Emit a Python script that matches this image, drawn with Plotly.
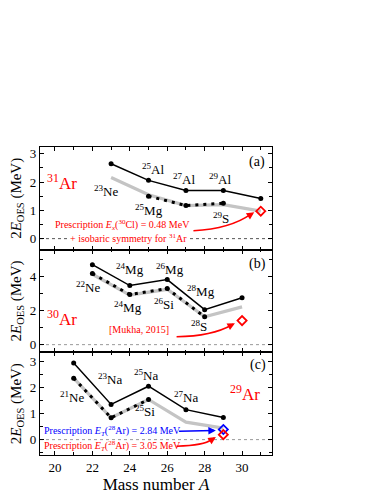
import plotly.graph_objects as go

FONT = "Liberation Serif"

# ---------------- data ----------------
# panel (a): 31Ar
a_A_exp = [23, 25, 27, 29, 31]
a_exp = [2.65, 2.06, 1.70, 1.70, 1.42]
a_A_dot = [25, 27, 29]
a_dot = [1.50, 1.17, 1.25]
a_A_grey = [23, 25, 27, 29, 31]
a_grey = [2.16, 1.55, 1.17, 1.20, 0.97]
a_A_pred = [31]
a_pred = [0.97]

# panel (b): 30Ar
b_A_exp = [22, 24, 26, 28, 30]
b_exp = [4.68, 3.46, 3.81, 2.05, 2.74]
b_A_dot = [22, 24, 26, 28]
b_dot = [4.16, 2.93, 3.28, 1.63]
b_A_grey = [22, 24, 26, 28, 30]
b_grey = [4.12, 2.90, 3.24, 1.63, 2.21]
b_A_pred = [30]
b_pred = [1.41]

# panel (c): 29Ar
c_A_exp = [21, 23, 25, 27, 29]
c_exp = [2.94, 1.35, 2.05, 1.15, 0.85]
c_A_dot = [21, 23, 25]
c_dot = [2.36, 0.84, 1.54]
c_A_grey = [21, 23, 25, 27, 29]
c_grey = [2.36, 0.84, 1.54, 0.67, 0.44]
c_A_blue = [29]
c_blue = [0.39]
c_A_red = [29]
c_red = [0.19]

x_ticks = [20, 22, 24, 26, 28, 30]

fig = go.Figure()

def add_panel(i, A_exp, exp, A_dot, dot, A_grey, grey):
    xa = "x" if i == 1 else f"x{i}"
    ya = "y" if i == 1 else f"y{i}"
    fig.add_trace(go.Scatter(x=A_grey, y=grey, mode="lines",
                             line=dict(color="#c4c4c4", width=3.2),
                             xaxis=xa, yaxis=ya, showlegend=False))
    fig.add_trace(go.Scatter(x=A_dot, y=dot, mode="lines+markers",
                             line=dict(color="black", width=3, dash="3px,5px"),
                             marker=dict(color="black", size=5),
                             xaxis=xa, yaxis=ya, showlegend=False))
    fig.add_trace(go.Scatter(x=A_exp, y=exp, mode="lines+markers",
                             line=dict(color="black", width=1.5),
                             marker=dict(color="black", size=5),
                             xaxis=xa, yaxis=ya, showlegend=False))
    return xa, ya

add_panel(1, a_A_exp, a_exp, a_A_dot, a_dot, a_A_grey, a_grey)
add_panel(2, b_A_exp, b_exp, b_A_dot, b_dot, b_A_grey, b_grey)
add_panel(3, c_A_exp, c_exp, c_A_dot, c_dot, c_A_grey, c_grey)

dm = dict(mode="markers", showlegend=False)
def dia(color):
    return dict(symbol="diamond-open", color=color, size=7, line=dict(width=1.8, color=color))
fig.add_trace(go.Scatter(x=a_A_pred, y=a_pred, marker=dia("red"), xaxis="x", yaxis="y", **dm))
fig.add_trace(go.Scatter(x=b_A_pred, y=b_pred, marker=dia("red"), xaxis="x2", yaxis="y2", **dm))
fig.add_trace(go.Scatter(x=c_A_blue, y=c_blue, marker=dia("blue"), xaxis="x3", yaxis="y3", **dm))
fig.add_trace(go.Scatter(x=c_A_red, y=c_red, marker=dia("red"), xaxis="x3", yaxis="y3", **dm))

# zero lines
zero_cols = ["#555555", "#999999", "#999999"]
for i, col in zip([1, 2, 3], zero_cols):
    xr = "x domain" if i == 1 else f"x{i} domain"
    yr = "y" if i == 1 else f"y{i}"
    fig.add_shape(type="line", xref=xr, yref=yr, x0=0, x1=1, y0=0, y1=0,
                  line=dict(color=col, width=1, dash="dot"), layer="below")

# curved arrows (bezier paths in data coords)
def curve(xr, yr, p0, pc, p1, color):
    fig.add_shape(type="path", xref=xr, yref=yr,
                  path=f"M {p0[0]},{p0[1]} Q {pc[0]},{pc[1]} {p1[0]},{p1[1]}",
                  line=dict(color=color, width=1.5))

def head(xr, yr, x, y, ax, ay, color):
    fig.add_annotation(x=x, y=y, ax=ax, ay=ay, xref=xr, yref=yr, axref=xr, ayref=yr,
                       showarrow=True, arrowhead=2, arrowsize=1, arrowwidth=1.5,
                       arrowcolor=color, text="")

curve("x", "y", (27.4, 0.28), (29.4, 0.36), (30.45, 0.86), "red")
head("x", "y", 30.65, 0.93, 30.3, 0.78, "red")
curve("x2", "y2", (26.5, 0.46), (28.4, 0.50), (29.45, 1.15), "red")
head("x2", "y2", 29.62, 1.25, 29.3, 1.07, "red")
curve("x3", "y3", (26.5, -0.25), (28.0, -0.22), (28.35, 0.0), "red")
head("x3", "y3", 28.6, 0.1, 28.25, -0.06, "red")
head("x3", "y3", 28.6, 0.35, 26.55, 0.32, "blue")

def txt(xr, yr, x, y, s, size=13, color="black", bg=None):
    kw = {}
    if bg:
        kw["bgcolor"] = bg
    fig.add_annotation(x=x, y=y, xref=xr, yref=yr, text=s, showarrow=False,
                       font=dict(family=FONT, size=size, color=color),
                       xanchor="center", yanchor="middle", borderpad=0, **kw)

# panel (a) labels
txt("x", "y", 20.4, 2.0, "<sup>31</sup>Ar", 17, "red")
txt("x", "y", 22.73, 1.7, "<sup>23</sup>Ne")
txt("x", "y", 25.23, 2.47, "<sup>25</sup>Al")
txt("x", "y", 26.89, 2.1, "<sup>27</sup>Al")
txt("x", "y", 28.84, 2.1, "<sup>29</sup>Al")
txt("x", "y", 25.0, 1.0, "<sup>25</sup>Mg")
txt("x", "y", 28.9, 0.73, "<sup>29</sup>S")
txt("x", "y", 30.82, 2.71, "(a)", 14)
txt("x", "y", 23.6, 0.47, "Prescription <i>E</i><sub><i>x</i></sub>(<sup>30</sup>Cl) = 0.48 MeV", 10, "red")
txt("x", "y", 23.95, 0.04, "+ isobaric symmetry for <sup>31</sup>Ar", 10, "red", bg="white")

# panel (b) labels
txt("x2", "y2", 20.4, 1.57, "<sup>30</sup>Ar", 17, "red")
txt("x2", "y2", 21.77, 3.38, "<sup>22</sup>Ne")
txt("x2", "y2", 24.02, 4.43, "<sup>24</sup>Mg")
txt("x2", "y2", 26.14, 4.43, "<sup>26</sup>Mg")
txt("x2", "y2", 27.82, 3.12, "<sup>28</sup>Mg")
txt("x2", "y2", 23.89, 2.21, "<sup>24</sup>Mg")
txt("x2", "y2", 25.81, 2.4, "<sup>26</sup>Si")
txt("x2", "y2", 27.72, 1.12, "<sup>28</sup>S")
txt("x2", "y2", 30.8, 4.74, "(b)", 14)
txt("x2", "y2", 24.5, 0.88, "[Mukha, 2015]", 10, "red")

# panel (c) labels
txt("x3", "y3", 30.18, 1.8, "<sup>29</sup>Ar", 17, "red")
txt("x3", "y3", 20.9, 1.62, "<sup>21</sup>Ne")
txt("x3", "y3", 22.95, 2.33, "<sup>23</sup>Na")
txt("x3", "y3", 24.86, 2.48, "<sup>25</sup>Na")
txt("x3", "y3", 27.0, 1.64, "<sup>27</sup>Na")
txt("x3", "y3", 24.82, 1.1, "<sup>25</sup>Si")
txt("x3", "y3", 30.85, 2.87, "(c)", 14)
txt("x3", "y3", 23.1, 0.32, "Prescription <i>E</i><sub><i>T</i></sub>(<sup>28</sup>Ar) = 2.84 MeV", 10, "blue")
txt("x3", "y3", 23.1, -0.24, "Prescription <i>E</i><sub><i>T</i></sub>(<sup>28</sup>Ar) = 3.05 MeV", 10, "red")

ax_common = dict(showline=True, linecolor="black", linewidth=1.2, mirror="allticks",
                 ticks="inside", ticklen=4, tickcolor="black", showgrid=False, zeroline=False,
                 automargin=False,
                 tickfont=dict(family=FONT, size=13, color="black"))

xr = [19.2, 31.6]
xaxis_base = dict(range=xr, tickvals=x_ticks, minor=dict(ticks="inside", ticklen=2.5, dtick=1, tick0=0, tickcolor="black"), **ax_common)
ytitle = dict(text="2<i>E</i><sub>OES</sub> (MeV)", font=dict(family=FONT, size=15, color="black"), standoff=4)

# page body has an 8px default margin, so the figure is sized/offset to compensate
fig.update_layout(
    width=374, height=486,
    margin=dict(l=32, r=110, t=139, b=39),
    paper_bgcolor="white", plot_bgcolor="white",
    xaxis=dict(anchor="y", showticklabels=False, **xaxis_base),
    xaxis2=dict(anchor="y2", matches="x", showticklabels=False, **xaxis_base),
    xaxis3=dict(anchor="y3", matches="x", showticklabels=True,
                title=dict(text="Mass number <i>A</i>", font=dict(family=FONT, size=17, color="black"), standoff=6),
                **xaxis_base),
    yaxis=dict(domain=[2/3, 1], range=[-0.39, 3.24], dtick=1, title=ytitle,
               minor=dict(ticks="inside", ticklen=2.5, dtick=0.5, tickcolor="black"), **ax_common),
    yaxis2=dict(domain=[1/3, 2/3], range=[-0.45, 5.56], dtick=2, title=ytitle,
                minor=dict(ticks="inside", ticklen=2.5, dtick=1, tickcolor="black"), **ax_common),
    yaxis3=dict(domain=[0, 1/3], range=[-0.59, 3.35], dtick=1, title=ytitle,
                minor=dict(ticks="inside", ticklen=2.5, dtick=0.5, tickcolor="black"), **ax_common),
)

fig.write_html("out.html")
